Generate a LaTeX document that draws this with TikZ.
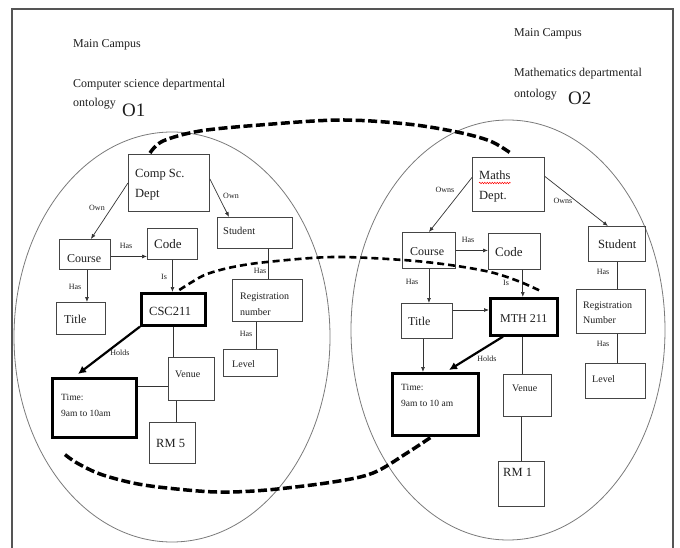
\documentclass[tikz,border=0pt]{standalone}
\usepackage{fontspec}
\setmainfont{Liberation Serif}
\usetikzlibrary{arrows.meta,calc,decorations.pathmorphing}
\newcommand\myfs[1]{\fontsize{#1}{#1}\selectfont}
\definecolor{framec}{HTML}{555555}
\definecolor{ellc}{HTML}{7A7A7A}
\definecolor{boxc}{HTML}{454545}
\definecolor{linec}{HTML}{333333}
\definecolor{txtc}{HTML}{1E1E1E}
\begin{document}
\begin{tikzpicture}[x=1pt,y=-1pt,
  box/.style={draw=boxc,line width=0.9pt,anchor=north west,inner sep=0pt},
  thickbox/.style={draw=black,line width=2.6pt,anchor=north west,inner sep=0pt},
  txt/.style={anchor=base west,inner sep=0pt,text=txtc},
  lbl/.style={inner sep=0pt,text=txtc,font=\myfs{8}},
  arr/.style={draw=linec,line width=0.7pt,-{Latex[length=5pt,width=4pt]}},
  ln/.style={draw=linec,line width=0.7pt},
  harr/.style={draw=black,line width=2.2pt,-{Latex[length=8pt,width=8pt]}},
  dshA/.style={draw=black,line width=3.5pt,dash pattern=on 9pt off 3.5pt},
  dshB/.style={draw=black,line width=2.6pt,dash pattern=on 7pt off 4pt},
]
\useasboundingbox (0,0) rectangle (680,548);
% frame
\draw[framec,line width=1.3pt] (12,548) -- (12,9) -- (673,9) -- (673,548);
% ellipses
\draw[ellc,line width=0.8pt] (172,337) ellipse [x radius=158pt, y radius=205pt];
\draw[ellc,line width=0.8pt] (508,330) ellipse [x radius=157pt, y radius=210pt];

% headings
\node[txt,font=\myfs{12}] (mcL) at (73,48) {Main Campus};
\node[txt,font=\myfs{12}] (csdL) at (73,88) {Computer science departmental};
\node[txt,font=\myfs{12}] (ontL) at (73,107) {ontology};
\node[txt,font=\myfs{19}] (oneL) at (122,117) {O1};
\node[txt,font=\myfs{12}] (mcR) at (514,37) {Main Campus};
\node[txt,font=\myfs{12}] (mdR) at (514,77) {Mathematics departmental};
\node[txt,font=\myfs{12}] (ontR) at (514,98) {ontology};
\node[txt,font=\myfs{19}] (twoR) at (568,105) {O2};

% ---------- left boxes ----------
\node[box,minimum width=81pt,minimum height=57pt] (cs) at (128,154) {};
\node[box,minimum width=51pt,minimum height=30pt] (courseL) at (59,239) {};
\node[box,minimum width=50pt,minimum height=31pt] (codeL) at (147,228) {};
\node[box,minimum width=75pt,minimum height=31pt] (studL) at (217,217) {};
\node[box,minimum width=49pt,minimum height=32pt] (titleL) at (56,302) {};
\node[thickbox,minimum width=64pt,minimum height=32pt] (cscL) at (140,292) {};
\node[box,minimum width=70pt,minimum height=42pt] (regL) at (232,279) {};
\node[box,minimum width=54pt,minimum height=27pt] (levL) at (223,349) {};
\node[box,minimum width=46pt,minimum height=43pt] (venL) at (168,357) {};
\node[thickbox,minimum width=84pt,minimum height=59pt] (timeL) at (51,377) {};
\node[box,minimum width=46pt,minimum height=41pt] (rmL) at (149,422) {};

\node[txt,font=\myfs{12.5}] (csT1) at (135,178) {Comp Sc.};
\node[txt,font=\myfs{12.5}] (csT2) at (135,198) {Dept};
\node[txt,font=\myfs{12}] (courseLT) at (67,262) {Course};
\node[txt,font=\myfs{13}] (codeLT) at (154,248) {Code};
\node[txt,font=\myfs{10.5}] (studLT) at (223,235) {Student};
\node[txt,font=\myfs{12}] (titleLT) at (64,323) {Title};
\node[txt,font=\myfs{12.5}] (cscLT) at (149,315) {CSC211};
\node[txt,font=\myfs{10}] (regLT1) at (240,299) {Registration};
\node[txt,font=\myfs{10}] (regLT2) at (240,315) {number};
\node[txt,font=\myfs{10}] (levLT) at (232,367) {Level};
\node[txt,font=\myfs{10}] (venLT) at (175,377) {Venue};
\node[txt,font=\myfs{9.5}] (timeLT1) at (61,400) {Time:};
\node[txt,font=\myfs{9.5}] (timeLT2) at (61,416) {9am to 10am};
\node[txt,font=\myfs{12.5}] (rmLT) at (156,447) {RM 5};

% ---------- right boxes ----------
\node[box,minimum width=72pt,minimum height=54pt] (maths) at (472,157) {};
\node[box,minimum width=53pt,minimum height=36pt] (courseR) at (402,232) {};
\node[box,minimum width=52pt,minimum height=36pt] (codeR) at (488,233) {};
\node[box,minimum width=57pt,minimum height=35pt] (studR) at (588,226) {};
\node[box,minimum width=51pt,minimum height=35pt] (titleR) at (401,303) {};
\node[thickbox,minimum width=67pt,minimum height=37pt] (mth) at (489,297) {};
\node[box,minimum width=69pt,minimum height=44pt] (regR) at (576,289) {};
\node[box,minimum width=60pt,minimum height=35pt] (levR) at (585,363) {};
\node[box,minimum width=48pt,minimum height=42pt] (venR) at (503,374) {};
\node[thickbox,minimum width=86pt,minimum height=62pt] (timeR) at (391,372) {};
\node[box,minimum width=46pt,minimum height=45pt] (rmR) at (498,461) {};

\node[txt,font=\myfs{12.5}] (mathsT1) at (479,180) {Maths};
\node[txt,font=\myfs{12.5}] (mathsT2) at (479,200) {Dept.};
\draw[red,line width=0.5pt,decorate,decoration={snake,amplitude=0.7pt,segment length=2.5pt}]
  ($(mathsT1.base west)+(0,3)$) -- ($(mathsT1.base east)+(0,3)$);
\node[txt,font=\myfs{12}] (courseRT) at (410,255) {Course};
\node[txt,font=\myfs{13}] (codeRT) at (495,257) {Code};
\node[txt,font=\myfs{12.5}] (studRT) at (598,248) {Student};
\node[txt,font=\myfs{12}] (titleRT) at (408,325) {Title};
\node[txt,font=\myfs{12}] (mthT) at (500,322) {MTH 211};
\node[txt,font=\myfs{10}] (regRT1) at (583,308) {Registration};
\node[txt,font=\myfs{10}] (regRT2) at (583,323) {Number};
\node[txt,font=\myfs{10}] (levRT) at (592,382) {Level};
\node[txt,font=\myfs{10}] (venRT) at (512,391) {Venue};
\node[txt,font=\myfs{9.5}] (timeRT1) at (401,390) {Time:};
\node[txt,font=\myfs{9.5}] (timeRT2) at (401,406) {9am to 10 am};
\node[txt,font=\myfs{12.5}] (rmRT) at (503,476) {RM 1};

% ---------- left connectors ----------
\draw[arr] (cs.west) -- ($(courseL.north)+(6,0)$);
\draw[arr] ($(cs.east)+(0,-4)$) -- ($(studL.north west)+(12,0)$);
\coordinate (p1) at ($(courseL.east)+(0,2)$);
\draw[arr] (p1) -- (p1 -| codeL.west);
\coordinate (p2) at ($(courseL.south)+(2,0)$);
\draw[arr] (p2) -- (p2 |- titleL.north);
\draw[arr] (codeL.south) -- (codeL.south |- cscL.north);
\coordinate (p3) at ($(regL.north)+(1,0)$);
\draw[ln] (p3 |- studL.south) -- (p3);
\coordinate (p4) at ($(levL.north)+(6,0)$);
\draw[ln] (p4 |- regL.south) -- (p4);
\draw[harr] (cscL.south west) -- ($(timeL.north west)+(27,-3)$);
\draw[ln] (cscL.south) -- (cscL.south |- venL.north);
\coordinate (p5) at ($(venL.west)+(0,7)$);
\draw[ln] (p5 -| timeL.east) -- (p5);
\coordinate (p6) at ($(rmL.north)+(4,0)$);
\draw[ln] (p6 |- venL.south) -- (p6);

\node[lbl] (l1) at (97,208) {Own};
\node[lbl] (l2) at (231,196) {Own};
\node[lbl] (l3) at (126,246) {Has};
\node[lbl] (l4) at (75,287) {Has};
\node[lbl] (l5) at (164,277) {Is};
\node[lbl] (l6) at (260,271) {Has};
\node[lbl] (l7) at (246,334) {Has};
\node[lbl] (l8) at (120,353) {Holds};

% ---------- right connectors ----------
\draw[arr] ($(maths.west)+(0,-7)$) -- (courseR.north);
\draw[arr] ($(maths.east)+(0,-8)$) -- ($(studR.north)+(-9,0)$);
\draw[arr] (courseR.east) -- (courseR.east -| codeR.west);
\draw[arr] (courseR.south) -- (courseR.south |- titleR.north);
\coordinate (q2) at ($(mth.north)+(-1,0)$);
\draw[arr] (q2 |- codeR.south) -- (q2);
\coordinate (q3) at ($(titleR.north east)+(0,7)$);
\draw[arr] (q3) -- (q3 -| mth.west);
\coordinate (q4) at ($(titleR.south)+(-4,0)$);
\draw[arr] (q4) -- (q4 |- timeR.north);
\draw[harr] ($(mth.south west)+(14,0)$) -- ($(timeR.north west)+(58,-2)$);
\coordinate (q5) at ($(mth.south)+(-1,0)$);
\draw[ln] (q5) -- (q5 |- venR.north);
\draw[ln] (rmR.north |- venR.south) -- (rmR.north);
\coordinate (q7) at ($(studR.south)+(0.5,0)$);
\draw[ln] (q7) -- (q7 |- regR.north);
\draw[ln] (q7 |- regR.south) -- (q7 |- levR.north);

\node[lbl] (r1) at (445,190) {Owns};
\node[lbl] (r2) at (563,201) {Owns};
\node[lbl] (r3) at (468,240) {Has};
\node[lbl] (r4) at (412,282) {Has};
\node[lbl] (r5) at (506,283) {Is};
\node[lbl] (r6) at (603,272) {Has};
\node[lbl] (r7) at (603,344) {Has};
\node[lbl] (r8) at (487,359) {Holds};

% ---------- dashed mapping curves ----------
\coordinate (dA) at ($(cs.north west)+(22,-1)$);
\coordinate (dB) at ($(maths.north)+(2,-4)$);
\draw[dshA] plot[smooth,tension=0.55] coordinates {(dA) (163,141) (200,131) (260,125) (340,120) (407,124) (457,132) (490,141) (dB)};
\coordinate (mA) at ($(cscL.north)+(6,-2)$);
\coordinate (mB) at ($(mth.north east)+(-18,-6)$);
\draw[dshB] plot[smooth,tension=0.55] coordinates {(mA) (192,282) (207,274) (233,267) (267,262) (333,257) (403,260) (450,265) (490,272) (518,281) (mB)};
\coordinate (bA) at ($(timeL.south west)+(14,16)$);
\coordinate (bB) at ($(timeR.south)+(-2,-1)$);
\draw[dshA] plot[smooth,tension=0.55] coordinates {(bA) (77,463) (100,474) (133,483) (167,488) (217,492) (267,490) (333,482) (373,473) (407,453) (bB)};
\end{tikzpicture}
\end{document}
